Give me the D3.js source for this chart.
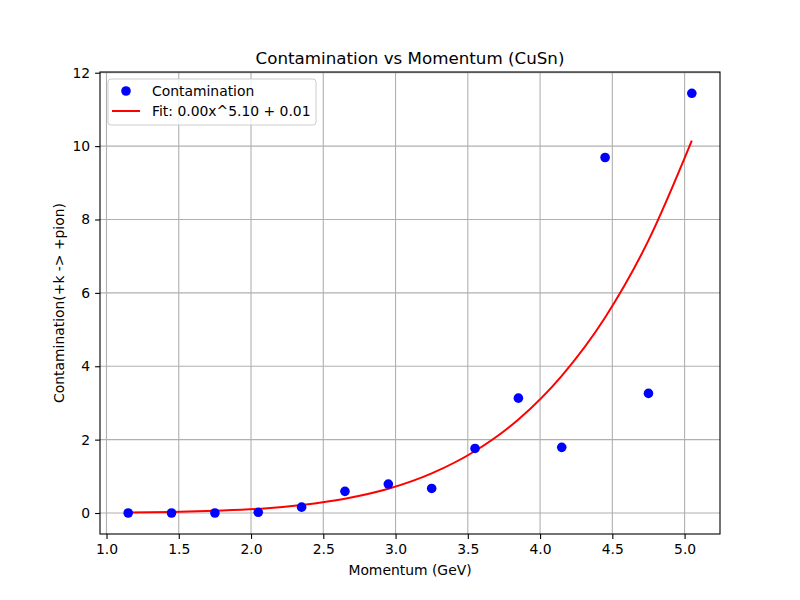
<!DOCTYPE html>
<html>
<head>
<meta charset="utf-8">
<script src="https://cdn.jsdelivr.net/npm/d3@7"></script>
<style>
  body { margin: 0; background: #fff; }
  text { font-family: "DejaVu Sans", sans-serif; fill: #000; }
</style>
</head>
<body>
<script>
'use strict';

// data
var momentum = [1.15, 1.45, 1.75, 2.05, 2.35, 2.65, 2.95, 3.25, 3.55, 3.85, 4.15, 4.45, 4.75, 5.05];
var contamination = [0.0, 0.0, 0.0, 0.02, 0.16, 0.59, 0.79, 0.67, 1.76, 3.13, 1.79, 9.69, 3.26, 11.44];
// fit curve, values
var fitValues = [0.015, 0.03, 0.06, 0.11, 0.22, 0.39, 0.66, 1.08, 1.69, 2.55, 3.74, 5.33, 7.43, 10.15];
var xTicks = [1.0, 1.5, 2.0, 2.5, 3.0, 3.5, 4.0, 4.5, 5.0];
var yTicks = [0, 2, 4, 6, 8, 10, 12];

var width = 800, height = 600;
var margin = {left: 100, right: 80, top: 72, bottom: 66};

var svg = d3.select("body").append("svg")
  .attr("width", width).attr("height", height);

var x = d3.scaleLinear().domain([0.955, 5.245]).range([margin.left, width - margin.right]);
var y = d3.scaleLinear().domain([-0.572, 12.02]).range([height - margin.bottom, margin.top]);

var plot = svg.append("g");

// grid
plot.append("g").selectAll("line").data(xTicks).enter().append("line")
  .attr("x1", function(d) { return x(d); }).attr("x2", function(d) { return x(d); })
  .attr("y1", y.range()[0]).attr("y2", y.range()[1])
  .attr("stroke", "#b0b0b0").attr("stroke-width", 1.1);
plot.append("g").selectAll("line").data(yTicks).enter().append("line")
  .attr("y1", function(d) { return y(d); }).attr("y2", function(d) { return y(d); })
  .attr("x1", x.range()[0]).attr("x2", x.range()[1])
  .attr("stroke", "#b0b0b0").attr("stroke-width", 1.1);

// fit line
var pts = momentum.map(function(m, i) { return [m, fitValues[i]]; });
plot.append("path")
  .datum(pts)
  .attr("fill", "none")
  .attr("stroke", "#ff0000")
  .attr("stroke-width", 2)
  .attr("d", d3.line()
    .x(function(d) { return x(d[0]); })
    .y(function(d) { return y(d[1]); })
    .curve(d3.curveMonotoneX));

// points
plot.append("g").selectAll("circle").data(momentum).enter().append("circle")
  .attr("cx", function(d) { return x(d); })
  .attr("cy", function(d, i) { return y(contamination[i]); })
  .attr("r", 4.8)
  .attr("fill", "#0000ff");

// axes
var xAxis = svg.append("g")
  .attr("transform", "translate(0," + (height - margin.bottom) + ")")
  .call(d3.axisBottom(x).tickValues(xTicks).tickFormat(d3.format(".1f")).tickSizeOuter(0).tickSize(4.9).tickPadding(4.9));
var yAxis = svg.append("g")
  .attr("transform", "translate(" + margin.left + ",0)")
  .call(d3.axisLeft(y).tickValues(yTicks).tickFormat(d3.format("d")).tickSizeOuter(0).tickSize(4.9).tickPadding(4.9));

[xAxis, yAxis].forEach(function(a) {
  a.select(".domain").remove();
  a.selectAll("line").attr("stroke", "#000").attr("stroke-width", 1.1);
  a.selectAll("text").attr("font-size", "13.9px").attr("font-family", "DejaVu Sans, sans-serif");
});

// frame
svg.append("rect")
  .attr("x", x.range()[0]).attr("y", y.range()[1])
  .attr("width", x.range()[1] - x.range()[0])
  .attr("height", y.range()[0] - y.range()[1])
  .attr("fill", "none").attr("stroke", "#000").attr("stroke-width", 1.1);

// labels
svg.append("text")
  .attr("x", (x.range()[0] + x.range()[1]) / 2).attr("y", 64)
  .attr("text-anchor", "middle").attr("font-size", "16.7px")
  .text("Contamination vs Momentum (CuSn)");
svg.append("text")
  .attr("x", (x.range()[0] + x.range()[1]) / 2).attr("y", 575)
  .attr("text-anchor", "middle").attr("font-size", "13.9px")
  .text("Momentum (GeV)");
svg.append("text")
  .attr("transform", "translate(64," + ((y.range()[0] + y.range()[1]) / 2) + ") rotate(-90)")
  .attr("text-anchor", "middle").attr("font-size", "13.9px")
  .text("Contamination(+k -> +pion)");

// legend
var legend = svg.append("g").attr("transform", "translate(108,79)");
legend.append("rect")
  .attr("width", 208).attr("height", 46).attr("rx", 3)
  .attr("fill", "#fff").attr("fill-opacity", 0.8)
  .attr("stroke", "#cccccc").attr("stroke-width", 1);
legend.append("circle").attr("cx", 18).attr("cy", 12).attr("r", 4.8).attr("fill", "#0000ff");
legend.append("text").attr("x", 44).attr("y", 17).attr("font-size", "13.9px").text("Contamination");
legend.append("line").attr("x1", 4).attr("x2", 32).attr("y1", 32).attr("y2", 32)
  .attr("stroke", "#ff0000").attr("stroke-width", 2);
legend.append("text").attr("x", 44).attr("y", 37).attr("font-size", "13.9px").text("Fit: 0.00x^5.10 + 0.01");
</script>
</body>
</html>
